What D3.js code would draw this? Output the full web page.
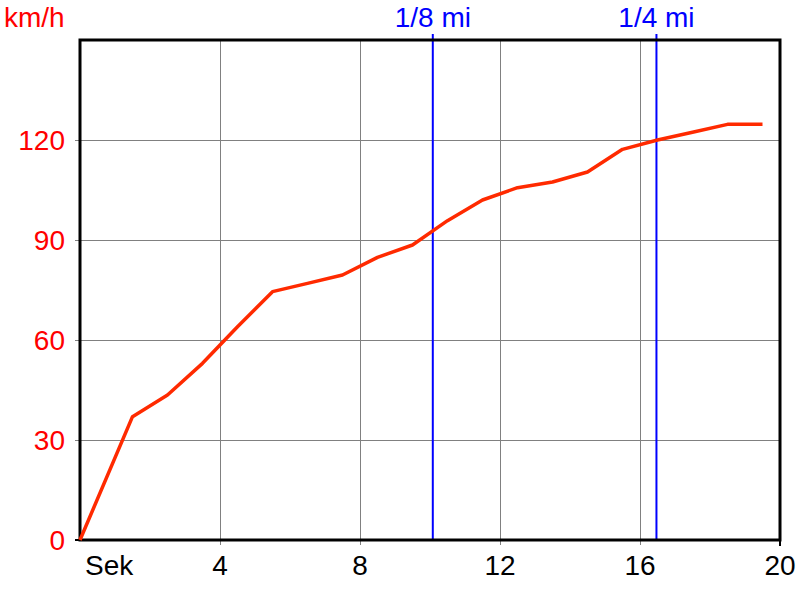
<!DOCTYPE html>
<html>
<head>
<meta charset="utf-8">
<script src="https://cdn.jsdelivr.net/npm/d3@7"></script>
<style>
html,body{margin:0;padding:0;background:#fff;}
svg{display:block;font-family:"Liberation Sans",Arial,sans-serif;}
</style>
</head>
<body>
<svg id="chart" width="800" height="600"></svg>
<script>
const seconds = [0, 1.5, 2.5, 3.5, 4.5, 5.5, 6.5, 7.5, 8.5, 9.5, 10.5, 11.5, 12.5, 13.5, 14.5, 15.5, 16.5, 17.5, 18.5, 19.5];
const speed   = [0, 37, 43.5, 53, 64, 74.5, 77, 79.5, 84.8, 88.5, 95.8, 102, 105.7, 107.4, 110.4, 117.2, 120, 122.3, 124.7, 124.7];
const xTicks = [0, 4, 8, 12, 16, 20];
const xTickLabels = ["Sek", "4", "8", "12", "16", "20"];
const yTicks = [0, 30, 60, 90, 120];
const markerTimes = [10.08, 16.47];
const markerLabels = ["1/8 mi", "1/4 mi"];
const yUnit = "km/h";

const svg = d3.select("#chart");
const L = 80, R = 780, T = 40, B = 540;
const x = d3.scaleLinear().domain([0, 20]).range([L, R]);
const y = d3.scaleLinear().domain([0, 150]).range([B, T]);

// grid
const g = svg.append("g");
g.selectAll(".vg").data(xTicks.filter(d => d > 0 && d < 20)).enter().append("line")
  .attr("x1", d => x(d)).attr("x2", d => x(d)).attr("y1", T).attr("y2", B + 5)
  .attr("stroke", "#808080").attr("stroke-width", 1).attr("shape-rendering", "crispEdges");
g.selectAll(".hg").data(yTicks.filter(d => d > 0)).enter().append("line")
  .attr("x1", L - 5).attr("x2", R).attr("y1", d => y(d)).attr("y2", d => y(d))
  .attr("stroke", "#808080").attr("stroke-width", 1).attr("shape-rendering", "crispEdges");
// end ticks
svg.append("line").attr("x1", x(20)).attr("x2", x(20)).attr("y1", B).attr("y2", B + 6)
  .attr("stroke", "#000").attr("stroke-width", 2);
svg.append("line").attr("x1", L - 5).attr("x2", L).attr("y1", y(0)).attr("y2", y(0))
  .attr("stroke", "#000").attr("stroke-width", 2);

// marker lines
svg.selectAll(".mk").data(markerTimes).enter().append("line")
  .attr("x1", d => x(d)).attr("x2", d => x(d)).attr("y1", T - 6).attr("y2", B)
  .attr("stroke", "#0000ff").attr("stroke-width", 2);

// frame
svg.append("rect").attr("x", L).attr("y", T).attr("width", R - L).attr("height", B - T)
  .attr("fill", "none").attr("stroke", "#000").attr("stroke-width", 3);

// data line
const data = seconds.map((s, i) => [s, speed[i]]);
svg.append("path").datum(data)
  .attr("d", d3.line().x(d => x(d[0])).y(d => y(d[1])))
  .attr("fill", "none").attr("stroke", "#ff2a00").attr("stroke-width", 3.5)
  .attr("stroke-linejoin", "round");

// labels
const fs = 28;
svg.selectAll(".yl").data(yTicks).enter().append("text")
  .attr("x", L - 15).attr("y", d => y(d) + 10)
  .attr("text-anchor", "end").attr("fill", "#ff0000").attr("font-size", fs)
  .text(d => d);
svg.selectAll(".xl").data(xTicks).enter().append("text")
  .attr("x", (d, i) => i === 0 ? x(d) + 5 : x(d)).attr("y", 575)
  .attr("text-anchor", (d, i) => i === 0 ? "start" : "middle")
  .attr("fill", "#000").attr("font-size", fs)
  .text((d, i) => xTickLabels[i]);
svg.append("text").attr("x", 4).attr("y", 27).attr("fill", "#ff0000").attr("font-size", fs).text(yUnit);
svg.selectAll(".ml").data(markerTimes).enter().append("text")
  .attr("x", d => x(d)).attr("y", 27).attr("text-anchor", "middle")
  .attr("fill", "#0000ff").attr("font-size", fs)
  .text((d, i) => markerLabels[i]);
</script>
</body>
</html>
